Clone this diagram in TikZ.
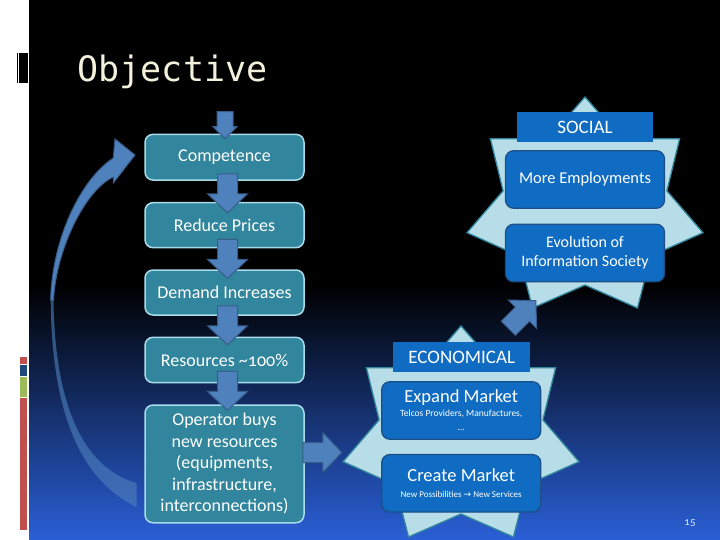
\documentclass[tikz,border=0pt]{standalone}
\usepackage{fontspec}
\setmainfont{Carlito}
\newfontfamily\titlefont{DejaVu Sans Mono}
\newfontfamily\symfont{DejaVu Sans}
\usetikzlibrary{calc}
\definecolor{boxteal}{HTML}{31859C}
\definecolor{boxedge}{HTML}{A8DCEA}
\definecolor{arrfill}{HTML}{4F81BD}
\definecolor{arredge}{HTML}{385D8A}
\definecolor{starfill}{HTML}{B7DEE8}
\definecolor{staredge}{HTML}{31859C}
\definecolor{bluebox}{HTML}{0F6CC2}
\definecolor{blueedge}{HTML}{1D4F86}
\definecolor{titlecol}{HTML}{F3F1DC}
\definecolor{bgblue}{HTML}{2A5FD6}
\definecolor{bgmid}{HTML}{0E2458}
\definecolor{barred}{HTML}{C0504D}
\definecolor{barblue}{HTML}{1F497D}
\definecolor{bargreen}{HTML}{9BBB59}
\definecolor{pagecol}{HTML}{D6EAF8}
\tikzset{
  leftbox/.style={draw=boxedge, line width=1.5pt, fill=boxteal, rounded corners=8pt,
    minimum width=159pt, minimum height=45pt, text=white, align=center, inner sep=2pt,
    font=\fontsize{18}{21.5}\selectfont},
  bluebox/.style={draw=blueedge, line width=1.2pt, fill=bluebox, rounded corners=8pt,
    minimum width=159pt, minimum height=57.5pt, text=white, align=center, inner sep=2pt},
  header/.style={fill=bluebox, minimum width=136.5pt, minimum height=29.5pt, text=white,
    inner sep=0pt, font=\fontsize{19}{20}\selectfont},
  starshape/.style={draw=staredge, line width=1.3pt, fill=starfill, line join=miter},
  blockarrow/.style={fill=arrfill, draw=arredge, line width=1pt, line join=miter},
  bigarrow/.pic={\path[blockarrow] (0,-10) -- (20,-10) -- (20,-20) -- (39,0) -- (20,20) -- (20,10) -- (0,10) -- cycle;},
  smallarrow/.pic={\path[blockarrow] (0,-8) -- (15,-8) -- (15,-12) -- (27,0) -- (15,12) -- (15,8) -- (0,8) -- cycle;},
}
\begin{document}
\begin{tikzpicture}[x=1pt,y=-1pt]
\useasboundingbox (0,0) rectangle (720,540);
% background
\fill[white] (0,0) rectangle (720,540);
\fill[black] (29,0) rectangle (720,540);
\shade[top color=black, middle color=bgmid, bottom color=bgblue] (29,285) rectangle (720,540);
% decorations at left
\fill[black] (16.7,53) rectangle (17.7,83);
\fill[black] (19,53) rectangle (27.7,83);
\fill[barred] (20,357) rectangle (26.5,364);
\fill[barblue] (20,365) rectangle (26.5,376);
\fill[bargreen] (20,377) rectangle (26.5,396.5);
\fill[barred] (20,397.5) rectangle (26.5,530);
% title
\node[anchor=base west, inner sep=0pt, text=titlecol, font=\titlefont\fontsize{35}{40}\selectfont] (title) at (77.5,82) {Objective};
% curved arrow (back face)
\fill[arrfill, opacity=0.6] (50.7,290) .. controls (50,390) and (70,475) .. (136.7,507)
  -- (136.7,483) .. controls (72,465) and (53,380) .. (53.5,290) -- cycle;
% curved arrow (front face)
\path[blockarrow] (50.7,300) .. controls (52,240) and (80,180) .. (113.3,158)
  -- (115,139) -- (135,155) -- (113.3,183) -- (113.3,177)
  .. controls (85,190) and (56,250) .. (53.5,300) -- cycle;
% stars
\coordinate (socc) at (585,208);
\coordinate (ecoc) at (461,437);
\draw[starshape] ($(socc)+(-90:121 and 111)$)
  \foreach \k in {1,...,7}{ -- ($(socc)+({-90-(\k-0.5)*360/7}:84 and 77)$) -- ($(socc)+({-90-\k*360/7}:121 and 111)$) } -- cycle;
\draw[starshape] ($(ecoc)+(-90:121 and 111)$)
  \foreach \k in {1,...,7}{ -- ($(ecoc)+({-90-(\k-0.5)*360/7}:84 and 77)$) -- ($(ecoc)+({-90-\k*360/7}:121 and 111)$) } -- cycle;
% left column
\node[leftbox, minimum height=45.7pt] (comp) at (224.5,157.2) {Competence};
\node[leftbox] (red) at (224.5,225.2) {Reduce Prices};
\node[leftbox] (dem) at (224.5,292.5) {Demand Increases};
\node[leftbox, minimum height=45.4pt] (res) at (224.5,360) {Resources \textasciitilde{\addfontfeatures{Numbers=OldStyle}100}\%};
\node[leftbox, minimum height=117.7pt] (op) at (224.5,463.9) {Operator buys\\new resources\\(equipments,\\infrastructure,\\interconnections)};
% social star content
\node[header] (soc) at (585,127) {SOCIAL};
\node[bluebox, font=\fontsize{16.5}{19}\selectfont] (emp) at (585,179.5) {More Employments};
\node[bluebox, font=\fontsize{16}{19}\selectfont] (evo) at (585,253) {Evolution of\\Information Society};
% economical star content
\node[header] (eco) at (461.7,357) {ECONOMICAL};
\node[bluebox, font=\fontsize{9.5}{14}\selectfont] (exp) at (461.2,410.5)
  {{\fontsize{18.5}{18}\selectfont Expand Market}\\Telcos Providers, Manufactures,\\…};
\node[bluebox, font=\fontsize{9}{16}\selectfont] (cre) at (461.2,483.3)
  {{\fontsize{18.5}{18}\selectfont Create Market}\\New Possibilities {\symfont →} New Services};
% block arrows
\pic[rotate=-90] at ($(comp.north)+(0.5,-22)$) {smallarrow};
\pic[rotate=-90] at ($(comp.south)+(3,-7)$) {bigarrow};
\pic[rotate=-90] at ($(red.south)+(3,-9)$) {bigarrow};
\pic[rotate=-90] at ($(dem.south)+(3,-10)$) {bigarrow};
\pic[rotate=-90] at ($(res.south)+(3,-12)$) {bigarrow};
\pic at ($(op.east)+(-2,-11.4)$) {bigarrow};
\pic[rotate=45] at ($(ecoc)+(47.3,-108.7)$) {bigarrow};
% page number
\node[text=pagecol, font=\fontsize{11}{13}\selectfont\addfontfeatures{Numbers=OldStyle}] (pg) at (690,523) {15};
\end{tikzpicture}
\end{document}
